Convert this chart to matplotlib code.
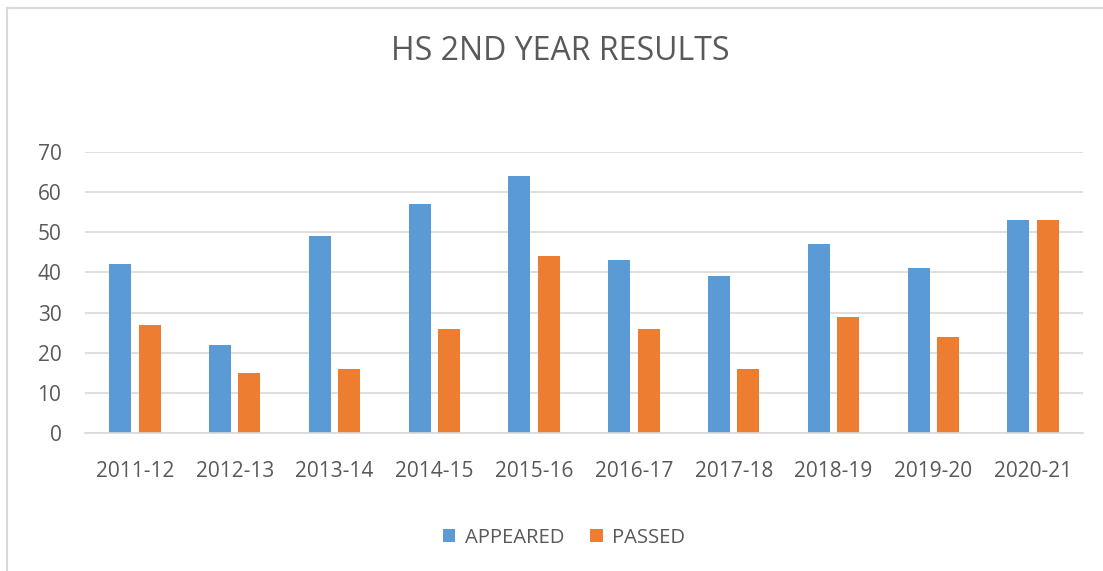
import matplotlib
matplotlib.use("Agg")
import matplotlib.pyplot as plt
import numpy as np
from matplotlib.patches import Patch
from matplotlib.lines import Line2D

plt.rcParams['font.family'] = ['Open Sans', 'DejaVu Sans']

categories = ["2011-12", "2012-13", "2013-14", "2014-15", "2015-16",
              "2016-17", "2017-18", "2018-19", "2019-20", "2020-21"]
appeared = [42, 22, 49, 57, 64, 43, 39, 47, 41, 53]
passed = [27, 15, 16, 26, 44, 26, 16, 29, 24, 53]
yticks = [0, 10, 20, 30, 40, 50, 60, 70]

blue = "#5B9BD5"
orange = "#ED7D31"
text_col = "#595959"
grid_col = "#D9D9D9"

W, H = 1103, 571
fig = plt.figure(figsize=(W / 100, H / 100), dpi=100)
ax = fig.add_axes([85 / W, 1 - 433 / H, (1083 - 85) / W, (433 - 152) / H])

x = np.arange(len(categories))
bw = 0.22
ax.bar(x - 0.148, appeared, width=bw, color=blue, zorder=3)
ax.bar(x + 0.148, passed, width=bw, color=orange, zorder=3)

ax.set_xlim(-0.5, len(categories) - 0.5)
ax.set_ylim(0, 70)
ax.set_yticks(yticks)
ax.set_xticks(x)
ax.set_xticklabels(categories)
ax.grid(axis='y', color=grid_col, linewidth=1.2, zorder=0)
for s in ['top', 'right', 'left']:
    ax.spines[s].set_visible(False)
ax.spines['bottom'].set_color(grid_col)
ax.spines['bottom'].set_linewidth(1.2)
ax.spines['bottom'].set_zorder(4)
ax.tick_params(axis='both', length=0, labelsize=15, colors=text_col)
ax.tick_params(axis='y', pad=17)
ax.tick_params(axis='x', pad=20)

fig.text(560 / W, 1 - 52 / H, "HS 2ND YEAR RESULTS", ha='center', va='center',
         fontsize=23, color=text_col)

handles = [Patch(facecolor=blue), Patch(facecolor=orange)]
fig.legend(handles, ["APPEARED", "PASSED"], loc='center', bbox_to_anchor=(564 / W, 1 - 538 / H),
           ncol=2, frameon=False, fontsize=14.6, labelcolor=text_col,
           handlelength=0.6, handleheight=0.6, handletextpad=0.45, columnspacing=1.3)

# chart frame (left and top edges only visible)
fig.add_artist(Line2D([7 / W, 7 / W], [1 - 8 / H, 0], transform=fig.transFigure,
                      color="#D9D9D9", linewidth=1.5))
fig.add_artist(Line2D([7 / W, 1], [1 - 8 / H, 1 - 8 / H], transform=fig.transFigure,
                      color="#D9D9D9", linewidth=1.5))

fig.savefig("out.png", dpi=100, facecolor="white")
